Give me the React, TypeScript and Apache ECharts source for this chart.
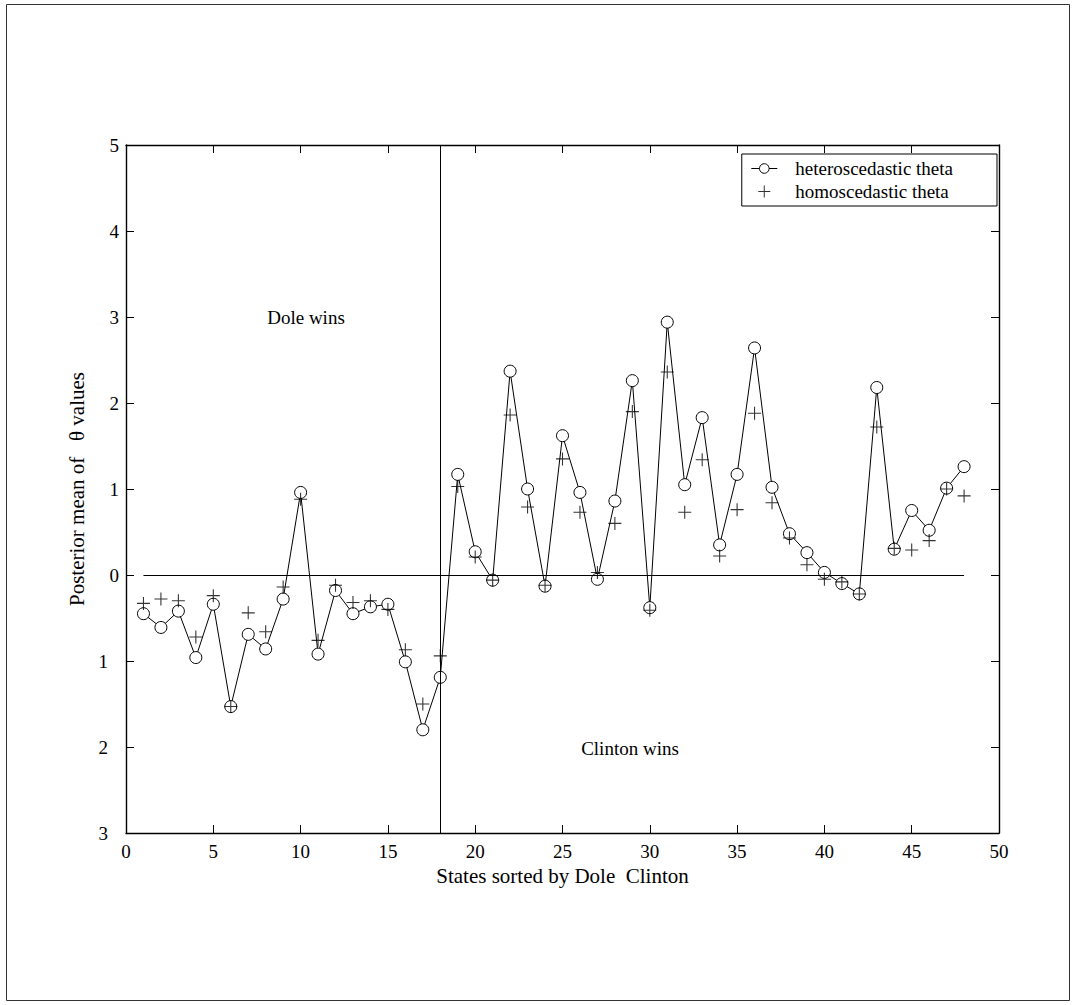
import React, { useEffect, useRef } from "react";
import * as echarts from "echarts";

// State index (sorted by Dole - Clinton)
const states = [
  1, 2, 3, 4, 5, 6, 7, 8, 9, 10, 11, 12, 13, 14, 15, 16, 17, 18, 19, 20, 21, 22, 23, 24,
  25, 26, 27, 28, 29, 30, 31, 32, 33, 34, 35, 36, 37, 38, 39, 40, 41, 42, 43, 44, 45, 46, 47, 48,
];

// heteroscedastic theta (posterior means)
const heteroTheta = [
  -0.45, -0.61, -0.42, -0.96, -0.34, -1.53, -0.69, -0.86, -0.28, 0.96,
  -0.92, -0.18, -0.45, -0.37, -0.34, -1.01, -1.8, -1.19, 1.17, 0.27,
  -0.06, 2.37, 1.0, -0.13, 1.62, 0.96, -0.05, 0.86, 2.26, -0.38,
  2.94, 1.05, 1.83, 0.35, 1.17, 2.64, 1.02, 0.48, 0.26, 0.03,
  -0.1, -0.22, 2.18, 0.3, 0.75, 0.52, 1.01, 1.26,
];

// homoscedastic theta (posterior means)
const homoTheta = [
  -0.33, -0.28, -0.3, -0.72, -0.24, -1.53, -0.44, -0.66, -0.14, 0.88,
  -0.76, -0.12, -0.32, -0.3, -0.4, -0.87, -1.5, -0.94, 1.03, 0.21,
  -0.06, 1.86, 0.79, -0.12, 1.35, 0.73, 0.03, 0.6, 1.9, -0.41,
  2.36, 0.73, 1.34, 0.22, 0.76, 1.88, 0.84, 0.43, 0.12, -0.05,
  -0.08, -0.22, 1.72, 0.31, 0.29, 0.4, 1.0, 0.92,
];

const dividerState = 18;
const zeroLineFrom = 1;
const zeroLineTo = 48;

const seriesNames = ["heteroscedastic theta", "homoscedastic theta"];
const xAxisTitle = "States sorted by Dole  Clinton";
const yAxisTitle = "Posterior mean of   θ values";
const regionLabels = ["Dole wins", "Clinton wins"];

const FONT = '"Liberation Serif", "Times New Roman", serif';
const PLUS = "path://M5.5,0H6.5V5.5H12V6.5H6.5V12H5.5V6.5H0V5.5H5.5Z";

export default function App() {
  const ref = useRef<HTMLDivElement>(null);

  useEffect(() => {
    if (!ref.current) return;
    const chart = echarts.init(ref.current, null, { renderer: "svg" });

    const axisLine = { show: true, onZero: false, lineStyle: { color: "#000", width: 1.4 } };
    const axisTick = { show: true, inside: true, length: 8, lineStyle: { color: "#000", width: 1 } };

    const option: any = {
      animation: false,
      backgroundColor: "#fff",
      textStyle: { fontFamily: FONT, color: "#000" },
      grid: { left: 126, right: 75, top: 145, bottom: 172, containLabel: false },
      legend: {
        orient: "vertical",
        right: 77,
        top: 154,
        padding: [5, 44, 5, 9],
        itemGap: 4,
        itemWidth: 26,
        itemHeight: 12,
        borderColor: "#000",
        borderWidth: 1,
        borderRadius: 0,
        backgroundColor: "#fff",
        textStyle: { fontSize: 19, color: "#000", fontFamily: FONT, padding: [0, 0, 0, 13] },
        data: [
          {
            name: seriesNames[0],
            itemStyle: { color: "#fff", borderColor: "#000", borderWidth: 1 },
            lineStyle: { color: "#000", width: 1 },
          },
          { name: seriesNames[1] },
        ],
      },
      xAxis: [
        {
          type: "value",
          min: 0,
          max: 50,
          interval: 5,
          position: "bottom",
          axisLine,
          axisTick,
          splitLine: { show: false },
          axisLabel: { fontSize: 19, color: "#000", fontFamily: FONT, margin: 9 },
          name: xAxisTitle,
          nameLocation: "middle",
          nameGap: 25,
          nameTextStyle: { fontSize: 21, color: "#000", fontFamily: FONT },
        },
        {
          type: "value",
          min: 0,
          max: 50,
          interval: 5,
          position: "top",
          axisLine,
          axisTick,
          splitLine: { show: false },
          axisLabel: { show: false },
        },
      ],
      yAxis: [
        {
          type: "value",
          min: -3,
          max: 5,
          interval: 1,
          position: "left",
          axisLine,
          axisTick,
          splitLine: { show: false },
          axisLabel: {
            fontSize: 19,
            color: "#000",
            fontFamily: FONT,
            margin: 7,
            formatter: (v: number) => (v < 0 ? `{n|${Math.abs(v)}}` : `{p|${v}}`),
            rich: {
              n: { fontSize: 19, fontFamily: FONT, color: "#000", padding: [0, 11, 0, 0] },
              p: { fontSize: 19, fontFamily: FONT, color: "#000" },
            },
          },
          name: yAxisTitle,
          nameLocation: "middle",
          nameGap: 36,
          nameRotate: 90,
          nameTextStyle: { fontSize: 21, color: "#000", fontFamily: FONT },
        },
        {
          type: "value",
          min: -3,
          max: 5,
          interval: 1,
          position: "right",
          axisLine,
          axisTick,
          splitLine: { show: false },
          axisLabel: { show: false },
        },
      ],
      series: [
        {
          name: seriesNames[0],
          type: "line",
          xAxisIndex: 0,
          yAxisIndex: 0,
          data: states.map((s, i) => [s, heteroTheta[i]]),
          symbol: "circle",
          symbolSize: 12,
          lineStyle: { color: "#000", width: 1 },
          itemStyle: { color: "#fff", borderColor: "#000", borderWidth: 1 },
          emphasis: { disabled: true },
          z: 2,
          markLine: {
            silent: true,
            symbol: "none",
            label: { show: false },
            lineStyle: { color: "#000", width: 1, type: "solid" },
            data: [
              { xAxis: dividerState },
              [{ coord: [zeroLineFrom, 0] }, { coord: [zeroLineTo, 0] }],
            ],
          },
        },
        {
          name: seriesNames[1],
          type: "scatter",
          xAxisIndex: 0,
          yAxisIndex: 0,
          data: states.map((s, i) => [s, homoTheta[i]]),
          symbol: PLUS,
          symbolSize: 13,
          itemStyle: { color: "#000" },
          emphasis: { disabled: true },
          z: 3,
        },
      ],
      graphic: [
        {
          type: "rect",
          silent: true,
          shape: { x: 6.5, y: 4.5, width: 1063, height: 996 },
          style: { fill: "none", stroke: "#333", lineWidth: 1 },
          z: -10,
        },
        {
          type: "text",
          x: 306,
          y: 317,
          style: {
            text: regionLabels[0],
            fontSize: 19,
            fontFamily: FONT,
            fill: "#000",
            align: "center",
            verticalAlign: "middle",
          },
        },
        {
          type: "text",
          x: 630,
          y: 748,
          style: {
            text: regionLabels[1],
            fontSize: 19,
            fontFamily: FONT,
            fill: "#000",
            align: "center",
            verticalAlign: "middle",
          },
        },
      ],
    };

    chart.setOption(option);
    return () => chart.dispose();
  }, []);

  return (
    <div
      ref={ref}
      style={{ position: "fixed", left: 0, top: 0, width: 1074, height: 1005, background: "#fff" }}
    />
  );
}
